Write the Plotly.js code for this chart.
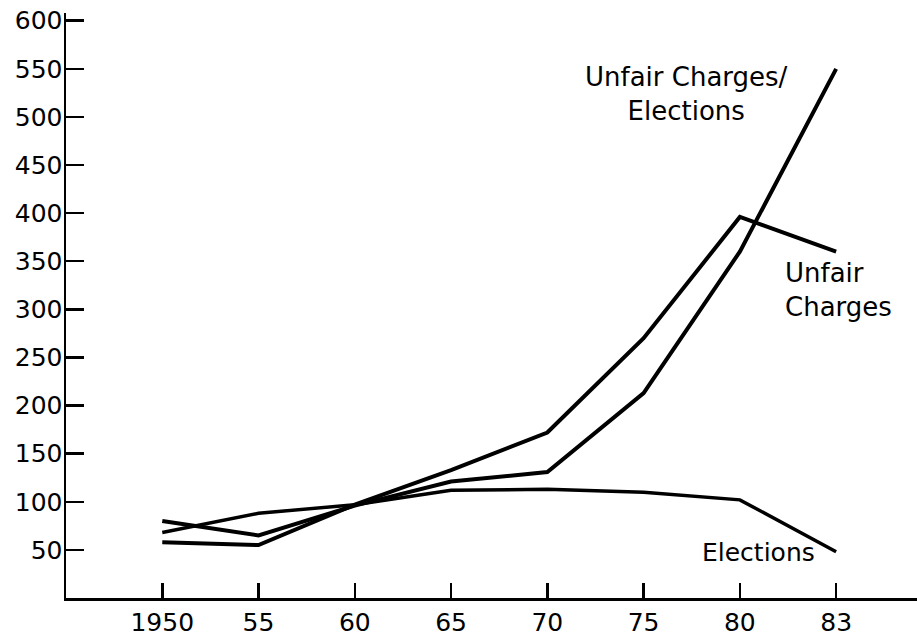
<!DOCTYPE html>
<html>
<head>
<meta charset="utf-8">
<script src="https://cdn.plot.ly/plotly-3.0.1.min.js"></script>
<style>
html,body{margin:0;padding:0;background:#fff;}
#chart{width:917px;height:644px;}
</style>
</head>
<body>
<div id="chart"></div>
<script>
// Data
const years = ["1950", "55", "60", "65", "70", "75", "80", "83"];
const unfairCharges = [58, 55, 97, 133, 172, 270, 396, 360];
const unfairChargesPerElection = [80, 65, 96, 121, 131, 213, 360, 550];
const elections = [68, 88, 97, 112, 113, 110, 102, 48];
const yTicks = [50, 100, 150, 200, 250, 300, 350, 400, 450, 500, 550, 600];

const idx = years.map((_, i) => i);
const lineStyle = {color: "#000", width: 4};

const traces = [
  {x: idx, y: unfairCharges, type: "scatter", mode: "lines", line: lineStyle, name: "Unfair Charges"},
  {x: idx, y: unfairChargesPerElection, type: "scatter", mode: "lines", line: lineStyle, name: "Unfair Charges/Elections"},
  {x: idx, y: elections, type: "scatter", mode: "lines", line: {color: "#000", width: 3.5}, name: "Elections"}
];

const font = {family: "DejaVu Sans, sans-serif", size: 25, color: "#000"};
const labelFont = {family: "DejaVu Sans, sans-serif", size: 26, color: "#000"};

const layout = {
  width: 917, height: 644,
  margin: {l: 66, r: 0, t: 13, b: 46},
  paper_bgcolor: "#fff", plot_bgcolor: "#fff",
  showlegend: false,
  font: font,
  xaxis: {
    range: [-1, 7.84],
    tickvals: idx, ticktext: years,
    ticks: "inside", ticklen: 15, tickwidth: 2.5, tickcolor: "#000",
    showline: true, linewidth: 3, linecolor: "#000",
    showgrid: false, zeroline: false,
    tickfont: font
  },
  yaxis: {
    range: [0, 608],
    tickvals: yTicks,
    ticks: "inside", ticklen: 18, tickwidth: 2.5, tickcolor: "#000",
    showline: true, linewidth: 2.5, linecolor: "#000",
    showgrid: false, zeroline: false,
    ticklabelstandoff: -4,
    tickfont: font
  },
  annotations: [
    {xref: "paper", yref: "paper", x: 0.729, y: 0.861, xanchor: "center", yanchor: "middle",
     text: "Unfair Charges/<br>Elections", showarrow: false, font: labelFont, align: "center"},
    {xref: "paper", yref: "paper", x: 0.842, y: 0.526, xanchor: "left", yanchor: "middle",
     text: "Unfair<br>Charges", showarrow: false, font: labelFont, align: "left"},
    {xref: "paper", yref: "paper", x: 0.745, y: 0.0786, xanchor: "left", yanchor: "middle",
     text: "Elections", showarrow: false, font: font, align: "left"}
  ]
};

Plotly.newPlot("chart", traces, layout, {displayModeBar: false, staticPlot: true});
</script>
</body>
</html>
